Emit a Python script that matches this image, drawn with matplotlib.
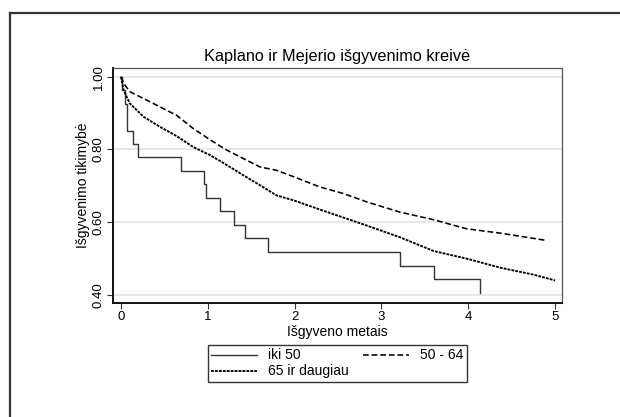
import matplotlib
matplotlib.use("Agg")
import matplotlib.pyplot as plt
from matplotlib.lines import Line2D

plt.rcParams["font.family"] = ["Liberation Sans", "DejaVu Sans"]

# iki 50: Kaplan-Meier steps (time of drop, survival after drop)
young_t = [0.0, 0.01, 0.05, 0.065, 0.135, 0.20, 0.69, 0.956, 0.975, 1.144, 1.30, 1.43, 1.69, 3.21, 3.61, 4.13]
young_s = [1.0, 0.963, 0.926, 0.852, 0.815, 0.778, 0.741, 0.704, 0.667, 0.630, 0.593, 0.556, 0.519, 0.481, 0.444, 0.405]

# 50 - 64
mid_t = [0.0, 0.03, 0.10, 0.26, 0.45, 0.64, 0.83, 1.03, 1.22, 1.41, 1.60, 1.79, 1.99, 2.29,
         2.56, 2.83, 3.21, 3.60, 3.98, 4.37, 4.90]
mid_s = [1.0, 0.982, 0.959, 0.940, 0.917, 0.894, 0.858, 0.826, 0.798, 0.775, 0.752, 0.743, 0.725, 0.697,
         0.679, 0.656, 0.628, 0.607, 0.582, 0.570, 0.550]

# 65 ir daugiau
old_t = [0.0, 0.03, 0.10, 0.26, 0.45, 0.64, 0.83, 1.03, 1.22, 1.41, 1.60, 1.79, 1.99, 2.29,
         2.83, 3.21, 3.60, 3.98, 4.37, 4.75, 5.0]
old_s = [1.0, 0.963, 0.927, 0.890, 0.862, 0.837, 0.807, 0.784, 0.757, 0.729, 0.702, 0.674, 0.660, 0.635,
         0.591, 0.559, 0.521, 0.500, 0.475, 0.456, 0.440]

yticks = [0.4, 0.6, 0.8, 1.0]
xticks = [0, 1, 2, 3, 4, 5]

fig = plt.figure(figsize=(6.2, 4.17), dpi=100)
ax = fig.add_axes([0.1823, 0.2734, 0.7242, 0.5635])

# outer frame (only top and left visible)
fig.add_artist(Line2D([10 / 620, 10 / 620], [0, 1 - 12.7 / 417], color="#333333", lw=1.6,
                      transform=fig.transFigure))
fig.add_artist(Line2D([10 / 620, 1], [1 - 12.7 / 417, 1 - 12.7 / 417], color="#333333", lw=1.6,
                      transform=fig.transFigure))

for y in yticks:
    ax.axhline(y, color="#e6e6e6", lw=1.3, zorder=0)

h_young, = ax.step(young_t, young_s, where="post", color="#333333", lw=1.0, label="iki 50")
h_mid, = ax.plot(mid_t, mid_s, color="black", lw=1.15, dashes=(3.6, 1.8), label="50 - 64")
h_old, = ax.plot(old_t, old_s, color="black", lw=1.35, dashes=(1.5, 0.6), label="65 ir daugiau")

ax.set_xlim(-0.092, 5.08)
ax.set_ylim(0.378, 1.024)
ax.set_xticks(xticks)
ax.set_yticks(yticks)
ax.set_yticklabels(["%.2f" % v for v in yticks], rotation=90, va="center")
ax.tick_params(axis="both", length=4, width=0.8, color="#333333", labelsize=9.5, pad=2)

for side in ["left", "bottom"]:
    ax.spines[side].set_linewidth(1.4)
    ax.spines[side].set_color("#111111")
for side in ["top", "right"]:
    ax.spines[side].set_linewidth(0.9)
    ax.spines[side].set_color("#555555")

ax.set_title("Kaplano ir Mejerio išgyvenimo kreivė", fontsize=11.7, pad=5)
ax.set_xlabel("Išgyveno metais", fontsize=10, labelpad=1)
ax.set_ylabel("Išgyvenimo tikimybė", fontsize=10, labelpad=2)

leg = fig.legend([h_young, h_old, h_mid], ["iki 50", "65 ir daugiau", "50 - 64"],
                 ncol=2, loc="lower left", bbox_to_anchor=(0.335, 0.084, 0.418, 0.0935),
                 mode="expand", fontsize=10, handlelength=3.3, handletextpad=0.8,
                 columnspacing=1.0, borderpad=0.25, labelspacing=0.15, fancybox=False,
                 frameon=True, edgecolor="black", borderaxespad=0)
leg.get_frame().set_linewidth(1.0)

fig.savefig("out.png", dpi=100)
